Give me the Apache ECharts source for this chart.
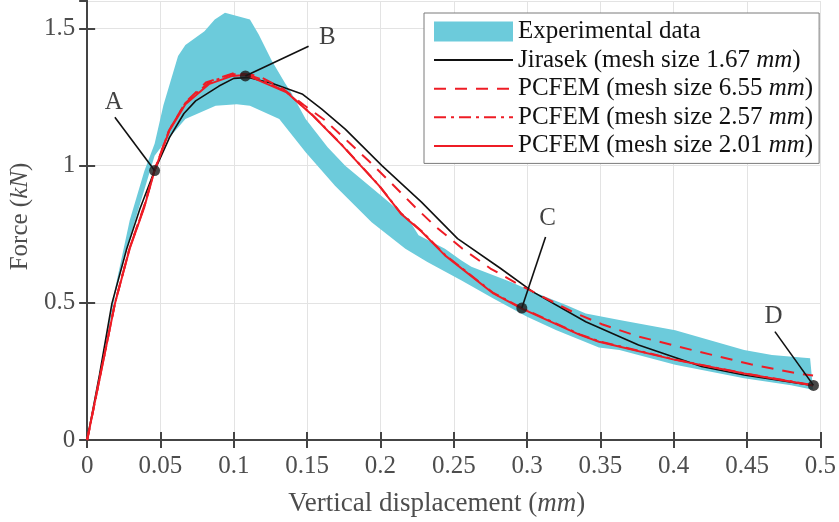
<!DOCTYPE html>
<html>
<head>
<meta charset="utf-8">
<script src="https://cdn.jsdelivr.net/npm/echarts@6/dist/echarts.min.js"></script>
<style>html,body{margin:0;padding:0;background:#fff}#c{width:839px;height:522px}</style>
</head>
<body>
<div id="c"></div>
<script>
// ---- data (x: vertical displacement mm, y: force kN) ----
const xTickLabels = ['0','0.05','0.1','0.15','0.2','0.25','0.3','0.35','0.4','0.45','0.5'];
const yTickLabels = ['0','0.5','1','1.5'];

const bandUpper = [[0,0],[0.010,0.29],[0.019,0.55],[0.029,0.80],[0.039,0.98],[0.046,1.08],[0.052,1.22],[0.062,1.40],[0.067,1.44],[0.080,1.49],[0.087,1.533],[0.094,1.557],[0.111,1.533],[0.117,1.478],[0.126,1.381],[0.135,1.30],[0.139,1.267],[0.149,1.17],[0.164,1.067],[0.176,1.0],[0.203,0.879],[0.219,0.806],[0.226,0.746],[0.244,0.697],[0.255,0.655],[0.262,0.631],[0.289,0.576],[0.304,0.54],[0.327,0.491],[0.340,0.461],[0.363,0.437],[0.401,0.40],[0.448,0.328],[0.467,0.31],[0.493,0.298],[0.495,0.183]];
const bandLower = [[0,0],[0.010,0.27],[0.019,0.528],[0.0247,0.661],[0.0337,0.818],[0.046,1.036],[0.052,1.079],[0.061,1.133],[0.067,1.17],[0.0876,1.218],[0.102,1.224],[0.111,1.218],[0.131,1.17],[0.149,1.049],[0.169,0.927],[0.194,0.794],[0.217,0.697],[0.232,0.649],[0.255,0.582],[0.277,0.516],[0.300,0.449],[0.320,0.40],[0.349,0.337],[0.363,0.328],[0.401,0.274],[0.448,0.225],[0.480,0.20],[0.495,0.183]];

const jirasek = [[0,0],[0.0085,0.24],[0.0169,0.498],[0.027,0.697],[0.036,0.843],[0.046,0.982],[0.0562,1.103],[0.066,1.19],[0.074,1.236],[0.0899,1.29],[0.100,1.318],[0.110,1.321],[0.126,1.30],[0.147,1.26],[0.160,1.206],[0.176,1.133],[0.201,1.0],[0.228,0.867],[0.2526,0.734],[0.282,0.625],[0.304,0.54],[0.340,0.431],[0.376,0.346],[0.419,0.268],[0.448,0.237],[0.495,0.199]];
const pcfem655 = [[0,0],[0.009,0.237],[0.019,0.50],[0.029,0.70],[0.039,0.855],[0.046,0.985],[0.056,1.13],[0.067,1.23],[0.081,1.303],[0.101,1.339],[0.117,1.327],[0.1335,1.28],[0.148,1.22],[0.162,1.166],[0.178,1.087],[0.193,1.012],[0.208,0.933],[0.2234,0.85],[0.238,0.776],[0.256,0.697],[0.275,0.625],[0.2953,0.564],[0.331,0.467],[0.351,0.422],[0.376,0.377],[0.417,0.322],[0.4525,0.276],[0.484,0.243],[0.495,0.235]];
const pcfem257 = [[0,0],[0.009,0.237],[0.019,0.50],[0.029,0.70],[0.039,0.852],[0.046,0.984],[0.056,1.13],[0.067,1.228],[0.083,1.303],[0.099,1.333],[0.108,1.334],[0.117,1.318],[0.136,1.268],[0.154,1.183],[0.174,1.074],[0.199,0.928],[0.214,0.826],[0.228,0.762],[0.244,0.675],[0.277,0.536],[0.2964,0.481],[0.336,0.385],[0.349,0.36],[0.401,0.293],[0.448,0.243],[0.495,0.2]];
const pcfem201 = [[0,0],[0.009,0.237],[0.019,0.498],[0.029,0.697],[0.039,0.849],[0.046,0.982],[0.056,1.127],[0.067,1.224],[0.083,1.297],[0.099,1.327],[0.108,1.33],[0.113,1.32],[0.136,1.267],[0.154,1.182],[0.174,1.073],[0.199,0.927],[0.214,0.825],[0.228,0.76],[0.244,0.673],[0.277,0.534],[0.2964,0.479],[0.336,0.383],[0.349,0.358],[0.401,0.292],[0.448,0.242],[0.495,0.199]];

const pointNames = ['A','B','C','D'];
const keyPoints = [[0.046,0.982],[0.1079,1.327],[0.2964,0.481],[0.4953,0.199]];
const leaderEnds = [[0.0189,1.176],[0.151,1.435],[0.3126,0.740],[0.469,0.395]];
const labelPos = [[0.0182,1.231],[0.1638,1.467],[0.314,0.806],[0.468,0.449]];

const seriesNames = ['Experimental data','Jirasek (mesh size 1.67 mm)','PCFEM (mesh size 6.55 mm)','PCFEM (mesh size 2.57 mm)','PCFEM (mesh size 2.01 mm)'];

// ---- chart ----
const FONT = '"Liberation Serif","Times New Roman",serif';
const CYAN = '#6ccbdb', RED = '#ee1c25', BLACK = '#111111', AXIS = '#444444', TICKTXT = '#4d4d4d';
const chart = echarts.init(document.getElementById('c'), null, {renderer: 'canvas'});

const polygon = bandUpper.concat(bandLower.slice().reverse());

const baseAxisLine = {show: true, lineStyle: {color: AXIS, width: 2}};
const hiddenSymbol = {opacity: 0, color: 'rgba(0,0,0,0)', borderWidth: 0};
const option = {
  animation: false,
  backgroundColor: '#fff',
  grid: {left: 82, right: 16, top: 1, bottom: 80, containLabel: false},
  xAxis: [
    {type: 'value', min: 0, max: 0.5, interval: 0.05, position: 'bottom',
     axisLine: baseAxisLine, axisTick: {show: true, inside: true, length: 8, lineStyle: {color: AXIS, width: 2}},
     splitLine: {show: true, lineStyle: {color: '#e3e3e3', width: 1}},
     axisLabel: {margin: 14, color: TICKTXT, fontFamily: FONT, fontSize: 25,
       formatter: (v) => { const i = Math.round(v / 0.05); return xTickLabels[i] || ''; }},
     name: '{n|Vertical displacement (}{i|mm}{n|)}', nameLocation: 'middle', nameGap: 50,
     nameTextStyle: {padding: [0, 34, 0, 0], rich: {n: {fontFamily: FONT, fontSize: 27, color: TICKTXT}, i: {fontFamily: FONT, fontSize: 27, fontStyle: 'italic', color: TICKTXT}}}},
    {type: 'value', min: 0, max: 0.5, interval: 0.05, position: 'top',
     axisLine: baseAxisLine, axisTick: {show: true, inside: true, length: 8, lineStyle: {color: AXIS, width: 2}},
     splitLine: {show: false}, axisLabel: {show: false}}
  ],
  yAxis: [
    {type: 'value', min: 0, max: 1.6, interval: 0.5, position: 'left',
     axisLine: baseAxisLine, axisTick: {show: true, inside: true, length: 8, lineStyle: {color: AXIS, width: 2}},
     splitLine: {show: true, lineStyle: {color: '#e3e3e3', width: 1}},
     axisLabel: {margin: 12, color: TICKTXT, fontFamily: FONT, fontSize: 25, showMaxLabel: false,
       formatter: (v) => { const i = Math.round(v / 0.5); return (Math.abs(v - i * 0.5) < 1e-6 && yTickLabels[i]) ? yTickLabels[i] : ''; }},
     name: '{n|Force (}{i|kN}{n|)}', nameLocation: 'middle', nameGap: 54,
     nameTextStyle: {padding: [0, 0, 0, 8], rich: {n: {fontFamily: FONT, fontSize: 25, color: TICKTXT}, i: {fontFamily: FONT, fontSize: 25, fontStyle: 'italic', color: TICKTXT}}}},
    {type: 'value', min: 0, max: 1.6, interval: 0.5, position: 'right',
     axisLine: baseAxisLine, axisTick: {show: true, inside: true, length: 8, lineStyle: {color: AXIS, width: 2}},
     splitLine: {show: false}, axisLabel: {show: false}}
  ],
  legend: {
    orient: 'vertical', left: 424, top: 13,
    padding: [6, 6, 5, 9],
    itemWidth: 79, itemHeight: 20, itemGap: 3.6,
    backgroundColor: '#ffffff', borderColor: '#7a7a7a', borderWidth: 1, borderRadius: 0,
    data: [
      {name: seriesNames[0], icon: 'rect'},
      {name: seriesNames[1], itemStyle: hiddenSymbol},
      {name: seriesNames[2], itemStyle: hiddenSymbol},
      {name: seriesNames[3], itemStyle: hiddenSymbol},
      {name: seriesNames[4], itemStyle: hiddenSymbol}
    ],
    formatter: (name) => {
      const m = name.match(/^(.*\s)mm\)$/);
      if (m) return '{n|' + m[1] + '}{i|mm}{n|)}';
      return '{n|' + name + '}';
    },
    textStyle: {rich: {
      n: {fontFamily: FONT, fontSize: 25, lineHeight: 25, color: '#111'},
      i: {fontFamily: FONT, fontSize: 25, lineHeight: 25, fontStyle: 'italic', color: '#111'}
    }},
    selectedMode: false
  },
  series: [
    {
      name: seriesNames[0], type: 'custom', z: 1,
      itemStyle: {color: CYAN},
      data: polygon,
      renderItem: (params, api) => {
        if (params.dataIndex !== 0) return null;
        const pts = polygon.map(p => api.coord(p));
        return {type: 'polygon', shape: {points: pts}, style: {fill: CYAN, stroke: null}};
      },
      encode: {x: 0, y: 1}
    },
    {name: seriesNames[1], type: 'line', z: 3, data: jirasek, symbol: 'none',
     lineStyle: {color: BLACK, width: 1.6}, itemStyle: {color: BLACK}},
    {name: seriesNames[2], type: 'line', z: 4, data: pcfem655, symbol: 'none',
     lineStyle: {color: RED, width: 2, type: [12, 9]}, itemStyle: {color: RED}},
    {name: seriesNames[3], type: 'line', z: 4, data: pcfem257, symbol: 'none',
     lineStyle: {color: RED, width: 2, type: [12, 5, 3, 5]}, itemStyle: {color: RED}},
    {name: seriesNames[4], type: 'line', z: 4, data: pcfem201, symbol: 'none',
     lineStyle: {color: RED, width: 2}, itemStyle: {color: RED}},
    {name: 'leaders', type: 'line', z: 5, data: [], symbol: 'none',
     markLine: {silent: true, symbol: 'none', label: {show: false},
       lineStyle: {color: BLACK, width: 1.6, type: 'solid'},
       data: keyPoints.map((p, i) => [{coord: leaderEnds[i]}, {coord: p}])}},
    {name: 'points', type: 'scatter', z: 6, data: keyPoints, symbol: 'circle', symbolSize: 11,
     itemStyle: {color: '#1a1a1a'}},
    {name: 'labels', type: 'scatter', z: 6, symbolSize: 1, itemStyle: {color: 'rgba(0,0,0,0)'},
     data: labelPos.map((p, i) => ({value: p, name: pointNames[i]})),
     label: {show: true, position: 'inside', formatter: (p) => p.name, fontFamily: FONT, fontSize: 25, color: '#111'}}
  ]
};
chart.setOption(option);
</script>
</body>
</html>
